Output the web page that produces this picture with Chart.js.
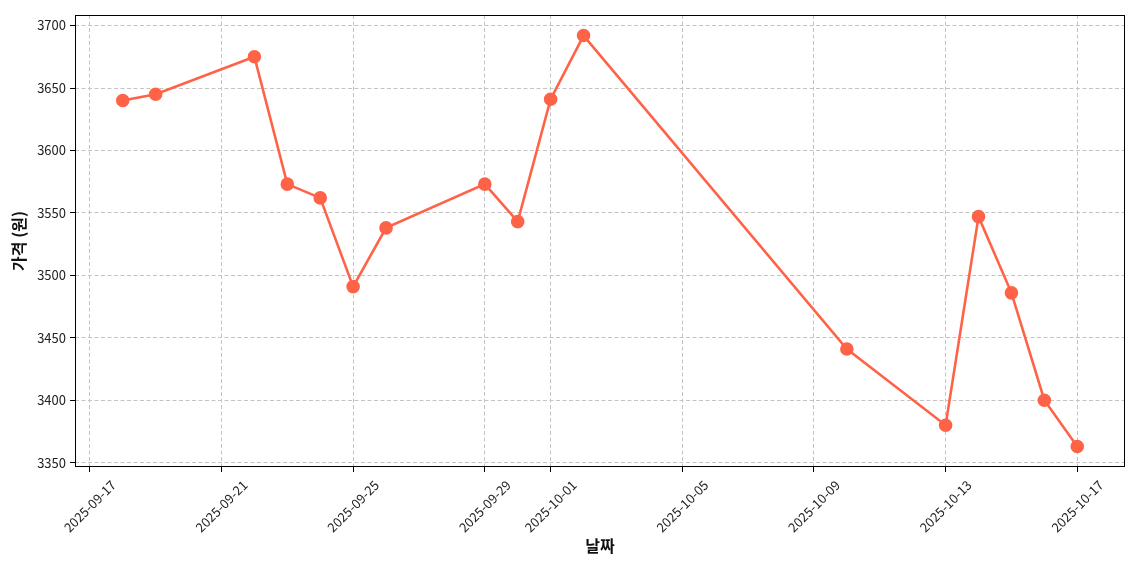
<!DOCTYPE html>
<html>
<head>
<meta charset="utf-8">
<script src="https://cdn.jsdelivr.net/npm/chart.js@4"></script>
<style>
html,body{margin:0;padding:0;background:#fff;}
#wrap{width:1140px;height:570px;position:relative;}
</style>
</head>
<body>
<div id="wrap"><canvas id="c" width="1140" height="570"></canvas></div>
<script>
const dates = ["2025-09-18","2025-09-19","2025-09-22","2025-09-23","2025-09-24","2025-09-25","2025-09-26","2025-09-29","2025-09-30","2025-10-01","2025-10-02","2025-10-10","2025-10-13","2025-10-14","2025-10-15","2025-10-16","2025-10-17"];
const prices = [3640,3645,3675,3573,3562,3491,3538,3573,3543,3641,3692,3441,3380,3547,3486,3400,3363];
const xTickLabels = ["2025-09-17","2025-09-21","2025-09-25","2025-09-29","2025-10-01","2025-10-05","2025-10-09","2025-10-13","2025-10-17"];
const yTickValues = [3350,3400,3450,3500,3550,3600,3650,3700];
const xTitle = "날짜";
const yTitle = "가격 (원)";

const DAY = 86400000;
const toDay = s => Date.parse(s + "T00:00:00Z") / DAY;
const pts = dates.map((d,i)=>({x: toDay(d), y: prices[i]}));
const xs = pts.map(p=>p.x), ys = prices;
const xmin = Math.min(...xs), xmax = Math.max(...xs);
const ymin = Math.min(...ys), ymax = Math.max(...ys);
const xm = (xmax-xmin)*0.05, ym = (ymax-ymin)*0.05;
const fmt = v => { const d = new Date(Math.round(v)*DAY); return d.toISOString().slice(0,10); };

const font = "'Noto Sans CJK KR', 'Noto Sans', sans-serif";
const tickFontPx = 13;

const frame = {
  id:'frame',
  afterDraw(chart){
    const {ctx, chartArea:a} = chart;
    ctx.save();
    ctx.strokeStyle = '#000';
    ctx.lineWidth = 1;
    ctx.strokeRect(Math.round(a.left)+0.5, Math.round(a.top)+0.5, Math.round(a.right-a.left)-1, Math.round(a.bottom-a.top)-1);
    // rotated x tick labels, centred under each tick (matplotlib style)
    const xs = chart.scales.x;
    ctx.font = tickFontPx + 'px ' + font;
    ctx.fillStyle = '#222';
    ctx.textAlign = 'center';
    ctx.textBaseline = 'middle';
    const s = Math.SQRT1_2;
    xs.ticks.forEach(t=>{
      const label = fmt(t.value);
      const w = ctx.measureText(label).width;
      const h = tickFontPx;
      const bh = (w + h) * s;
      const px = xs.getPixelForValue(t.value);
      const cy = a.bottom + 11 + bh/2;
      ctx.save();
      ctx.translate(px, cy);
      ctx.rotate(-Math.PI/4);
      ctx.fillText(label, 0, 0);
      ctx.restore();
    });
    ctx.restore();
  }
};

const gridOpts = {
  color:'#c4c4c4',
  lineWidth:1,
  drawTicks:true,
  tickLength:5,
  tickColor:'#000',
  tickBorderDash:[1,0],
  tickWidth:1
};

new Chart(document.getElementById('c'), {
  type:'line',
  data:{datasets:[{
    data: pts,
    borderColor:'#FF6347',
    backgroundColor:'#FF6347',
    pointBackgroundColor:'#FF6347',
    pointBorderColor:'#FF6347',
    borderWidth:2.6,
    pointRadius:5.5,
    pointHoverRadius:5.5,
    tension:0,
    clip:false
  }]},
  options:{
    responsive:false,
    animation:false,
    devicePixelRatio:1,
    layout:{padding:{top:15,right:15,left:0,bottom:0}},
    plugins:{legend:{display:false},tooltip:{enabled:false}},
    scales:{
      x:{
        type:'linear',
        min: xmin - xm,
        max: xmax + xm,
        afterBuildTicks(scale){ scale.ticks = xTickLabels.map(s=>({value: toDay(s)})); },
        afterFit(scale){ scale.height = 103; },
        ticks:{ display:false, autoSkip:false },
        grid: gridOpts,
        border:{display:false, dash:[4,2.5]},
        title:{display:true,text:xTitle,color:'#111',font:{family:font,size:16,weight:'bold'},padding:{top:0,bottom:14}}
      },
      y:{
        min: ymin - ym,
        max: ymax + ym,
        afterBuildTicks(scale){ scale.ticks = yTickValues.map(v=>({value:v})); },
        afterFit(scale){ scale.width = 75; },
        ticks:{
          callback: v => String(v),
          color:'#222',
          font:{family:font,size:tickFontPx},
          padding:4
        },
        grid: gridOpts,
        border:{display:false, dash:[4,2.5]},
        title:{display:true,text:yTitle,color:'#111',font:{family:font,size:16,weight:'bold'},padding:{top:9,bottom:0}}
      }
    }
  },
  plugins:[frame]
});
</script>
</body>
</html>
